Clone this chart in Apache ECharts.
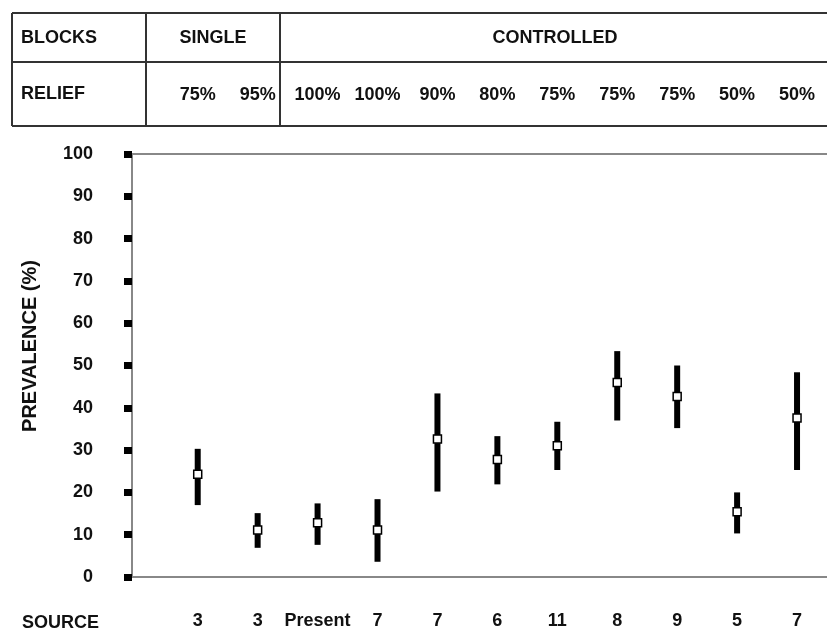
<!DOCTYPE html>
<html>
<head>
<meta charset="utf-8">
<script src="https://cdn.jsdelivr.net/npm/echarts@6/dist/echarts.min.js"></script>
<style>html,body{margin:0;padding:0;background:#fff;}#c{width:827px;height:631px;}</style>
</head>
<body>
<div id="c"></div>
<script>
const sources = ['3','3','Present','7','7','6','11','8','9','5','7'];
const relief = ['75%','95%','100%','100%','90%','80%','75%','75%','75%','50%','50%'];
const midValues = [24.3, 11.1, 12.8, 11.1, 32.6, 27.8, 31.0, 46.0, 42.7, 15.4, 37.6];
const lowValues = [17.0, 6.9, 7.6, 3.6, 20.2, 21.9, 25.3, 37.0, 35.2, 10.3, 25.3];
const highValues = [30.3, 15.1, 17.4, 18.4, 43.4, 33.3, 36.7, 53.4, 50.0, 20.0, 48.4];
const yTicks = [0, 10, 20, 30, 40, 50, 60, 70, 80, 90, 100];

const FONT = "'Liberation Sans', Arial, sans-serif";
const chart = echarts.init(document.getElementById('c'), null, {renderer: 'canvas'});
const lineC = '#333';
const tbl = [];
[[12,13,900,13],[12,62,900,62],[12,126,900,126],[12,13,12,126],[146,13,146,126],[280,13,280,126]].forEach(l=>{
  tbl.push({type:'line', shape:{x1:l[0],y1:l[1],x2:l[2],y2:l[3]}, style:{stroke:lineC, lineWidth:2}});
});
function txt(t, x, y, align, size){
  return {type:'text', x:x, y:y, style:{text:t, font:'bold '+(size||18)+'px '+FONT, fill:'#111', textAlign:align, textVerticalAlign:'middle'}};
}
tbl.push(txt('BLOCKS', 21, 38, 'left'));
tbl.push(txt('SINGLE', 213, 38, 'center'));
tbl.push(txt('CONTROLLED', 555, 38, 'center'));
tbl.push(txt('RELIEF', 21, 94, 'left'));
tbl.push(txt('SOURCE', 22, 623, 'left'));
tbl.push({type:'text', x:30, y:346, rotation: Math.PI/2,
  style:{text:'PREVALENCE (%)', font:'bold 20px '+FONT, fill:'#111', textAlign:'center', textVerticalAlign:'middle'}});

const data = sources.map((s, i) => [i, lowValues[i], highValues[i], midValues[i]]);

chart.setOption({
  animation: false,
  backgroundColor: '#fff',
  graphic: tbl,
  grid: [
    {left: 132, right: -10, top: 154, bottom: 54},
    {left: 167.75, right: -6.25, top: 154, bottom: 54}
  ],
  xAxis: [
    {gridIndex: 0, type: 'value', min: 0, max: 1, position: 'bottom', axisLine:{show:true, onZero:false, lineStyle:{color:'#888', width:2}}, axisTick:{show:false}, axisLabel:{show:false}, splitLine:{show:false}},
    {gridIndex: 0, type: 'value', min: 0, max: 1, position: 'top', axisLine:{show:true, onZero:false, lineStyle:{color:'#888', width:2}}, axisTick:{show:false}, axisLabel:{show:false}, splitLine:{show:false}},
    {gridIndex: 1, type: 'category', data: sources, position: 'bottom', axisLine:{show:false}, axisTick:{show:false}, splitLine:{show:false},
     axisLabel:{interval: 0, margin: 35, fontFamily: FONT, fontWeight:'bold', fontSize: 18, color:'#111'}},
    {gridIndex: 1, type: 'category', data: relief, position: 'top', offset: 44, axisLine:{show:false}, axisTick:{show:false}, splitLine:{show:false},
     axisLabel:{interval: 0, margin: 6, fontFamily: FONT, fontWeight:'bold', fontSize: 18, color:'#111'}}
  ],
  yAxis: [
    {gridIndex: 0, type: 'value', min: 0, max: 100, interval: 10,
     axisLine: {show: true, onZero:false, lineStyle: {color: '#888', width: 2}},
     axisTick: {show: true, inside: false, length: 8, lineStyle: {color: '#000', width: 7}},
     axisLabel: {margin: 39, fontFamily: FONT, fontWeight: 'bold', fontSize: 18, color: '#111',
       formatter: v => yTicks.indexOf(v) >= 0 ? String(v) : ''},
     splitLine: {show: false}},
    {gridIndex: 1, type: 'value', min: 0, max: 100, show: false}
  ],
  series: [{
    type: 'custom',
    xAxisIndex: 2, yAxisIndex: 1,
    data: data,
    encode: {x: 0, y: [1, 2, 3]},
    renderItem: function(params, api){
      const i = api.value(0);
      const pHi = api.coord([i, api.value(2)]);
      const pLo = api.coord([i, api.value(1)]);
      const pMid = api.coord([i, api.value(3)]);
      return {type: 'group', children: [
        {type: 'rect', shape: {x: pHi[0]-3, y: pHi[1], width: 6, height: pLo[1]-pHi[1]}, style: {fill: '#000'}},
        {type: 'rect', shape: {x: pMid[0]-4, y: pMid[1]-4, width: 8, height: 8}, style: {fill: '#fff', stroke: '#000', lineWidth: 1.5}}
      ]};
    }
  }]
});
</script>
</body>
</html>
